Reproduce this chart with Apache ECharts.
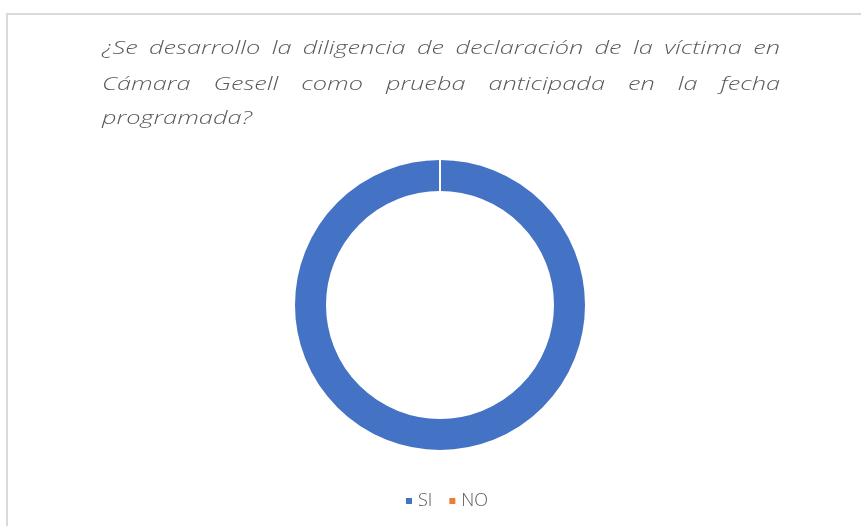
<!DOCTYPE html>
<html><head><meta charset="utf-8">
<script src="https://cdn.jsdelivr.net/npm/echarts@6/dist/echarts.min.js"></script>
<style>html,body{margin:0;padding:0;background:#fff}#c{width:861px;height:526px}</style>
</head><body><div id="c"></div>
<script>
const categories = ['SI', 'NO'];
const values = [100, 0];
const titleLines = [
  '¿Se desarrollo la diligencia de declaración de la víctima en',
  'Cámara Gesell como prueba anticipada en la fecha',
  'programada?'
];
const colors = ['#4472C4', '#ED7D31'];

const FONT_FAMILY = '"Open Sans", sans-serif';
const FONT_SIZE = 19;
const fontStr = 'italic 300 ' + FONT_SIZE + 'px ' + FONT_FAMILY;
const ctx = document.createElement('canvas').getContext('2d');
ctx.font = fontStr;

const left = 102, right = 780;
const lineY = [49, 85, 119];
// horizontal stretch so that the last (unjustified) line spans like the reference
const lastLine = titleLines[titleLines.length - 1];
const stretch = 150 / ctx.measureText(lastLine).width;

const titleElems = [];
titleLines.forEach((line, i) => {
  const words = line.split(' ');
  const justify = i < titleLines.length - 1;
  const widths = words.map(w => ctx.measureText(w).width * stretch);
  const total = widths.reduce((a, b) => a + b, 0);
  const space = justify && words.length > 1 ? (right - left - total) / (words.length - 1) : ctx.measureText(' ').width * stretch;
  let x = left;
  words.forEach((w, j) => {
    titleElems.push({
      type: 'text', x: x, y: lineY[i], scaleX: stretch,
      style: { text: w, font: fontStr, fill: '#595959', verticalAlign: 'middle', textVerticalAlign: 'middle' }
    });
    x += widths[j] + space;
  });
});

const chart = echarts.init(document.getElementById('c'));
chart.setOption({
  animation: false,
  color: colors,
  graphic: [
    { type: 'rect', shape: { x: 7, y: 14, width: 900, height: 600 }, style: { fill: 'none', stroke: '#d9d9d9', lineWidth: 2 } }
  ].concat(titleElems),
  legend: {
    data: categories, top: 487, left: 399, icon: 'rect',
    itemWidth: 8, itemHeight: 8, itemGap: 15,
    textStyle: { color: '#595959', fontSize: 18, fontFamily: FONT_FAMILY, fontWeight: 300 }
  },
  series: [{
    type: 'pie', center: [440, 305], radius: [113, 146],
    startAngle: 90, clockwise: true, label: { show: false }, labelLine: { show: false },
    itemStyle: { borderColor: '#fff', borderWidth: 2 },
    emphasis: { disabled: true },
    data: categories.map((c, i) => ({ name: c, value: values[i] }))
  }]
});
</script></body></html>
